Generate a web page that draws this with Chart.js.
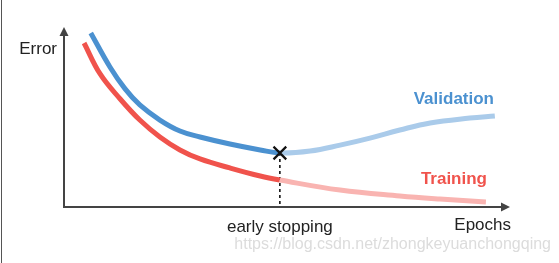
<!DOCTYPE html>
<html>
<head>
<meta charset="utf-8">
<script src="https://cdn.jsdelivr.net/npm/chart.js@4"></script>
<style>
  body { margin: 0; background: #fff; }
  canvas { display: block; }
</style>
</head>
<body>
<canvas id="myChart" width="559" height="263"></canvas>
<script>
// Curves (x = epochs 0..100, y = error 0..100)
const valEpochs   = [6.0, 10.3, 13.7, 17.0, 21.5, 26.0, 30.5, 37.2, 44.0, 48.4, 55.2, 61.9, 68.6, 75.3, 82.1, 91.0, 96.6];
const valError    = [96.7, 77.8, 65.6, 56.7, 48.3, 42.2, 38.9, 35.0, 31.7, 30.0, 31.1, 34.4, 38.3, 42.8, 46.7, 49.4, 50.6];
const trainEpochs = [4.5, 8.1, 12.6, 17.0, 21.5, 26.0, 30.5, 37.2, 44.0, 48.4, 61.9, 75.3, 84.3, 94.6];
const trainError  = [91.1, 73.9, 60.0, 48.3, 38.9, 31.7, 26.7, 21.7, 17.2, 15.0, 9.4, 6.1, 4.4, 2.8];

const stopEpoch = 48.4;
const stopError = 30.0;

const labels = {
  yAxis: 'Error',
  xAxis: 'Epochs',
  stop: 'early stopping',
  validation: 'Validation',
  training: 'Training',
  watermark: 'https://blog.csdn.net/zhongkeyuanchongqing'
};

const blue = '#4b91d0', blueFaded = '#aacbea';
const red = '#f0534c', redFaded = '#f9b4b1';

function toPoints(xs, ys) {
  return xs.map((x, i) => ({x: x, y: ys[i]}));
}

// axes with arrow heads + the text labels
const decorations = {
  id: 'decorations',
  beforeDatasetsDraw(chart) {
    const ctx = chart.ctx;
    const a = chart.chartArea;
    ctx.save();
    // thin frame line at the very left of the screenshot
    ctx.fillStyle = '#555';
    ctx.fillRect(1, 0, 1, chart.height);

    ctx.strokeStyle = '#444';
    ctx.fillStyle = '#444';
    ctx.lineWidth = 2;
    ctx.beginPath();
    ctx.moveTo(a.left, a.top + 6);
    ctx.lineTo(a.left, a.bottom);
    ctx.lineTo(a.right - 6, a.bottom);
    ctx.stroke();
    // arrow heads
    ctx.beginPath();
    ctx.moveTo(a.left, a.top);
    ctx.lineTo(a.left - 4.5, a.top + 9);
    ctx.lineTo(a.left + 4.5, a.top + 9);
    ctx.closePath();
    ctx.fill();
    ctx.beginPath();
    ctx.moveTo(a.right, a.bottom);
    ctx.lineTo(a.right - 9, a.bottom - 4.5);
    ctx.lineTo(a.right - 9, a.bottom + 4.5);
    ctx.closePath();
    ctx.fill();
    ctx.restore();
  },
  afterDraw(chart) {
    const ctx = chart.ctx;
    const a = chart.chartArea;
    const xs = chart.scales.x;
    ctx.save();
    ctx.textBaseline = 'middle';
    ctx.font = '17px "Liberation Sans", Arial, sans-serif';
    ctx.fillStyle = '#222';
    ctx.textAlign = 'right';
    ctx.fillText(labels.yAxis, a.left - 7, 49);
    ctx.textAlign = 'center';
    ctx.fillText(labels.stop, xs.getPixelForValue(stopEpoch), 227);
    ctx.textAlign = 'right';
    ctx.fillText(labels.xAxis, a.right + 1, 225);

    ctx.font = 'bold 17px "Liberation Sans", Arial, sans-serif';
    ctx.fillStyle = blue;
    ctx.textAlign = 'right';
    ctx.fillText(labels.validation, 494, 99);
    ctx.fillStyle = red;
    ctx.fillText(labels.training, 487, 179);

    ctx.font = '16px "Liberation Sans", Arial, sans-serif';
    ctx.fillStyle = '#dcdcdc';
    ctx.textAlign = 'right';
    ctx.fillText(labels.watermark, 551, 245);
    ctx.restore();
  }
};

function segColor(dark, faded) {
  return c => c.p0.parsed.x >= stopEpoch - 0.01 ? faded : dark;
}

new Chart(document.getElementById('myChart'), {
  type: 'line',
  data: {
    datasets: [
      {
        label: 'stop',
        data: [{x: stopEpoch, y: stopError}],
        showLine: false,
        pointStyle: 'crossRot',
        pointRadius: 9,
        borderColor: '#111',
        borderWidth: 2.2
      },
      {
        label: 'Validation',
        data: toPoints(valEpochs, valError),
        borderColor: blue,
        borderWidth: 5,
        pointRadius: 0,
        tension: 0.4,
        segment: { borderColor: segColor(blue, blueFaded) }
      },
      {
        label: 'Training',
        data: toPoints(trainEpochs, trainError),
        borderColor: red,
        borderWidth: 5,
        pointRadius: 0,
        tension: 0.4,
        segment: { borderColor: segColor(red, redFaded) }
      },
      {
        label: 'stop line',
        data: [{x: stopEpoch, y: stopError}, {x: stopEpoch, y: 0}],
        borderColor: '#111',
        borderWidth: 1.6,
        borderDash: [3, 3],
        pointRadius: 0
      }
    ]
  },
  options: {
    responsive: false,
    animation: false,
    devicePixelRatio: 1,
    layout: { padding: { left: 64, right: 49, top: 27, bottom: 56 } },
    plugins: { legend: { display: false }, tooltip: { enabled: false } },
    scales: {
      x: { type: 'linear', min: 0, max: 100, display: false },
      y: { min: 0, max: 100, display: false }
    }
  },
  plugins: [decorations]
});
</script>
</body>
</html>
